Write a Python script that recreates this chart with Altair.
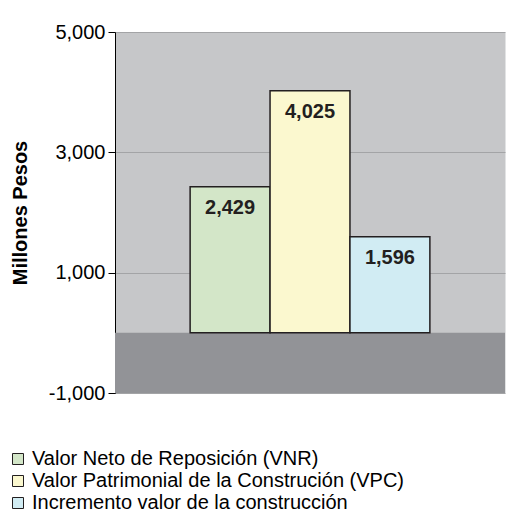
import altair as alt
import pandas as pd

series = [
    "Valor Neto de Reposición (VNR)",
    "Valor Patrimonial de la Construción (VPC)",
    "Incremento valor de la construcción",
]
values = [2429, 4025, 1596]
colors = ["#d3e6c8", "#fbf8cf", "#d1ecf3"]
y_ticks = [-1000, 1000, 3000, 5000]
y_domain = [-1000, 5000]
floor_range = [-1000, 0]

df = pd.DataFrame({"serie": series, "valor": values, "base": [0] * len(values)})
floor_df = pd.DataFrame({"lo": [floor_range[0]], "hi": [floor_range[1]]})

FONT = "Liberation Sans"
yscale = alt.Scale(domain=y_domain, nice=False, zero=False)
xscale = alt.Scale(domain=series, paddingInner=0, paddingOuter=0.94)
yaxis = alt.Axis(
    values=y_ticks, format=",.0f",
    labelExpr="replace(format(datum.value, ',.0f'), '\u2212', '-')",
    title="Millones Pesos",
    labelFontSize=20, labelColor="#000000", labelFont=FONT, labelPadding=3,
    tickColor="#000000", tickSize=7, domainColor="#000000",
    gridColor="#a3a4a6", titleFont=FONT, titleFontSize=20, titleFontWeight="bold",
    titleColor="#000000", titlePadding=18,
)

floor = alt.Chart(floor_df).mark_rect(color="#929397").encode(
    y=alt.Y("lo:Q", scale=yscale, axis=yaxis),
    y2="hi:Q",
)

bars = alt.Chart(df).mark_bar(stroke="#231f20", strokeWidth=1.5).encode(
    x=alt.X("serie:N", scale=xscale, axis=None, sort=series),
    y=alt.Y("valor:Q", scale=yscale, axis=yaxis),
    y2="base:Q",
    color=alt.Color(
        "serie:N",
        scale=alt.Scale(domain=series, range=colors),
        sort=series,
        legend=alt.Legend(
            title=None, orient="none", legendX=-107, legendY=417,
            symbolType="square", symbolSize=121, symbolStrokeColor="#231f20",
            symbolStrokeWidth=1, symbolOpacity=1,
            labelFont=FONT, labelFontSize=20, labelColor="#000000",
            rowPadding=2, labelOffset=4, labelLimit=520,
        ),
    ),
)

labels = alt.Chart(df).mark_text(
    baseline="top", dy=11, fontWeight="bold", fontSize=20, font=FONT, color="#231f20"
).encode(
    x=alt.X("serie:N", scale=xscale, axis=None, sort=series),
    y=alt.Y("valor:Q", scale=yscale, axis=yaxis),
    text=alt.Text("valor:Q", format=","),
)

chart = alt.layer(floor, bars, labels).properties(
    width=390, height=361,
    padding={"left": 107, "top": 24, "right": 2, "bottom": 120},
    autosize="none",
    background="#ffffff",
).configure_view(fill="#c6c7c9", stroke="transparent")

chart.save("out.html", embed_options={"renderer": "svg", "actions": False})
